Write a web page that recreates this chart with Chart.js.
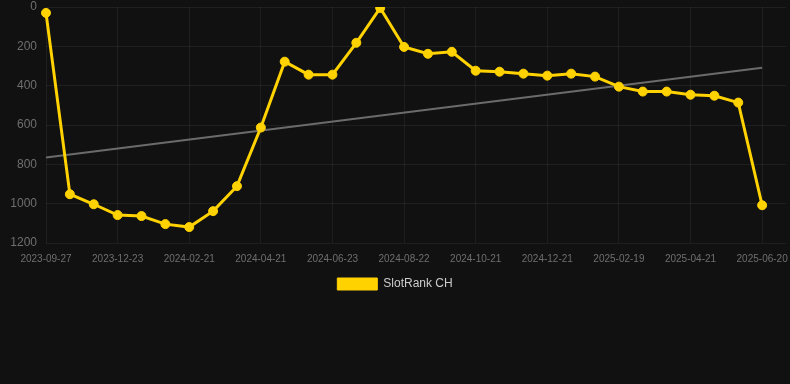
<!DOCTYPE html>
<html>
<head>
<meta charset="utf-8">
<script src="https://cdn.jsdelivr.net/npm/chart.js@4.4.1/dist/chart.umd.min.js"></script>
<style>
  html, body { margin: 0; padding: 0; background: #111111; }
  .chart-box { width: 790px; height: 300px; position: relative; }
</style>
</head>
<body>
<div class="chart-box"><canvas id="rankChart"></canvas></div>
<script>
// dates of the samples (last one is an empty slot at the right edge)
const dates = [
  '2023-09-27', '2023-10-26', '2023-11-24', '2023-12-23', '2024-01-12', '2024-02-01',
  '2024-02-21', '2024-03-12', '2024-04-01', '2024-04-21', '2024-05-12', '2024-06-02',
  '2024-06-23', '2024-07-13', '2024-08-02', '2024-08-22', '2024-09-11', '2024-10-01',
  '2024-10-21', '2024-11-10', '2024-12-01', '2024-12-21', '2025-01-10', '2025-01-30',
  '2025-02-19', '2025-03-11', '2025-04-01', '2025-04-21', '2025-05-11', '2025-05-31',
  '2025-06-20', '2025-07-10'
]

// rank values
const rankCH = [
  30, 952, 1003, 1058, 1063, 1104, 1119, 1038, 911, 613, 278, 344, 344, 182, 5, 203,
  238, 228, 324, 329, 339, 349, 339, 354, 405, 430, 430, 446, 451, 486, 1008, null
]

// trend line end points
const trendStart = 765
const trendEnd = 309

const yTicks = [0, 200, 400, 600, 800, 1000, 1200]

const trend = dates.map(() => null)
trend[0] = trendStart
trend[rankCH.length - 2] = trendEnd

const gridColor = 'rgba(255, 255, 255, 0.06)'
const shownTick = (i) => i % 3 === 0 && i <= 30
const fontFamily = 'Arial, "Liberation Sans", sans-serif'

new Chart(document.getElementById('rankChart'), {
    type: 'line',
    data: {
        labels: dates,
        datasets: [
            {
                label: 'SlotRank CH',
                data: rankCH,
                borderColor: '#ffd200',
                backgroundColor: '#ffd200',
                borderWidth: 3,
                pointRadius: 4.5,
                pointBorderWidth: 1,
                pointHoverRadius: 4.5,
                tension: 0
            },
            {
                label: 'trend',
                data: trend,
                borderColor: '#6b6b6b',
                backgroundColor: '#6b6b6b',
                borderWidth: 2,
                pointRadius: 0,
                spanGaps: true
            }
        ]
    },
    options: {
        responsive: true,
        maintainAspectRatio: false,
        animation: false,
        layout: { autoPadding: false, padding: 0 },
        plugins: {
            legend: {
                position: 'bottom',
                labels: {
                    color: '#cccccc',
                    font: { family: fontFamily, size: 12 },
                    boxWidth: 40,
                    boxHeight: 12,
                    filter: (item) => item.text !== 'trend',
                    generateLabels: (chart) => {
                        const items = Chart.defaults.plugins.legend.labels.generateLabels(chart)
                        items.forEach(it => { it.lineWidth = 1 })
                        return items
                    }
                }
            },
            tooltip: { enabled: false }
        },
        scales: {
            x: {
                offset: false,
                grid: {
                    drawTicks: false,
                    color: (ctx) => shownTick(ctx.index) ? gridColor : 'rgba(0,0,0,0)'
                },
                border: { display: false },
                afterFit: (axis) => {
                    axis.height = 25
                    axis.paddingRight = 4
                },
                ticks: {
                    color: '#6f6f6f',
                    font: { family: fontFamily, size: 10 },
                    autoSkip: false,
                    maxRotation: 0,
                    padding: 10,
                    callback: function (value, index) {
                        return shownTick(index) ? dates[index] : ''
                    }
                }
            },
            y: {
                reverse: true,
                min: 0,
                max: 1200,
                afterBuildTicks: (axis) => { axis.ticks = yTicks.map(v => ({ value: v })) },
                afterFit: (axis) => {
                    axis.width = 46
                    axis.paddingTop = 7
                    axis.paddingBottom = 6
                },
                grid: { color: gridColor, drawTicks: false },
                border: { display: false },
                ticks: {
                    color: '#6f6f6f',
                    font: { family: fontFamily, size: 12 },
                    padding: 9,
                    callback: (v) => String(v)
                }
            }
        }
    }
})
</script>
</body>
</html>
